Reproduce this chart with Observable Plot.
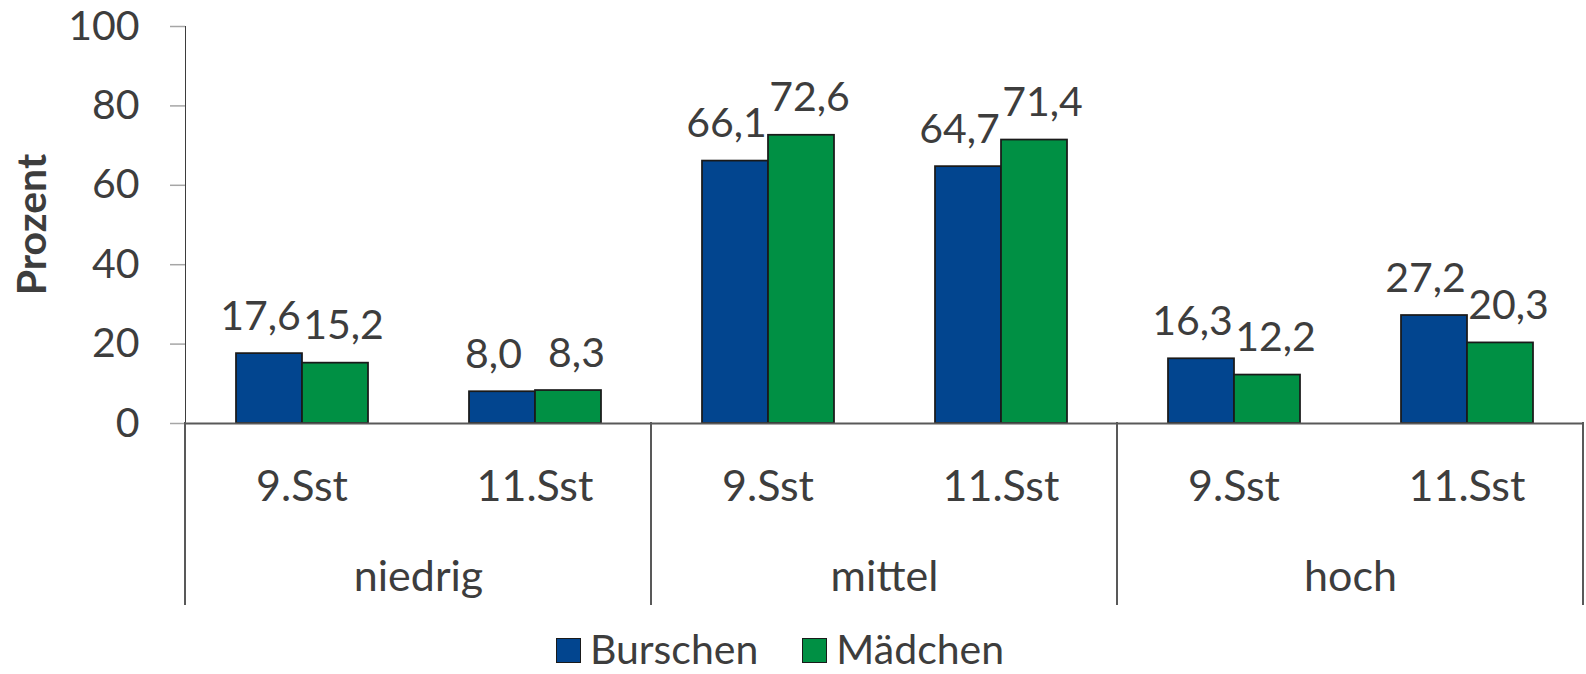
<!DOCTYPE html>
<html><head><meta charset="utf-8">
<script src="https://cdn.jsdelivr.net/npm/d3@7"></script>
<script src="https://cdn.jsdelivr.net/npm/@observablehq/plot@0.6"></script>
<style>
body{margin:0;background:#fff;font-family:Lato,sans-serif;overflow:hidden}
#chart svg{display:block;overflow:visible}
#chart g[aria-label="y-axis tick"]{stroke:#a6a6a6;stroke-width:1.5px}
#chart g[aria-label="y-axis tick"] path{stroke:#a6a6a6}
#legend{display:flex;justify-content:center;align-items:flex-end;height:68px;padding-bottom:1px;font-size:41px;line-height:normal;color:#3d3d3d;padding-right:26px;box-sizing:border-box}
#legend .item{display:flex;align-items:center;margin:0 22px}
#legend .sw{width:23px;height:23px;border:1.5px solid #1a1a1a;margin-right:9px;margin-top:4px}
</style></head><body><div id="chart"></div><div id="legend"></div>
<script>
const groups = ["niedrig", "mittel", "hoch"];
const stufen = ["9.Sst", "11.Sst"];
const series = ["Burschen", "Mädchen"];
const burschen = [17.6, 8.0, 66.1, 64.7, 16.3, 27.2];
const maedchen = [15.2, 8.3, 72.6, 71.4, 12.2, 20.3];
const colors = ["#02458f", "#009044"];
const yTicks = [0, 20, 40, 60, 80, 100];
const yTitle = "Prozent";

const keys = groups.flatMap(g => stufen.map(s => g + "|" + s));
const rows = [];
keys.forEach((k, i) => {
  rows.push({key: k, sex: series[0], value: burschen[i]});
  rows.push({key: k, sex: series[1], value: maedchen[i]});
});
const subRows = keys.map(k => ({key: k, sub: k.split("|")[1]}));
const groupRows = groups.map(g => ({key: g + "|" + stufen[1], group: g}));
const fmt = v => v.toFixed(1).replace(".", ",");

const W = 1586, H = 606;
const plot = Plot.plot({
  width: W, height: H,
  marginLeft: 183, marginRight: 1, marginTop: 26, marginBottom: H - 423,
  style: {fontFamily: "Lato, sans-serif", fontSize: "41px", color: "#3d3d3d", background: "#fff"},
  fx: {domain: keys, padding: 0, axis: null, label: null},
  x: {domain: series, paddingInner: 0, paddingOuter: 0.744, axis: null},
  y: {domain: [0, 100], ticks: yTicks, tickSize: 15, tickPadding: 31, label: null, line: true, tickFormat: d => String(d)},
  color: {domain: series, range: colors},
  marks: [
    Plot.barY(rows, {fx: "key", x: "sex", y: "value", fill: "sex", stroke: "#1a1a1a", strokeWidth: 1.75}),
    Plot.ruleY([0], {stroke: "#595959", strokeWidth: 2}),
    Plot.text(rows.filter(d => d.sex === series[0]), {fx: "key", x: "sex", y: "value", text: d => fmt(d.value), lineAnchor: "bottom", dy: -24, dx: -9, fill: "#3d3d3d"}),
    Plot.text(rows.filter(d => d.sex === series[1]), {fx: "key", x: "sex", y: "value", text: d => fmt(d.value), lineAnchor: "bottom", dy: -24, dx: 8, fill: "#3d3d3d"}),
    Plot.text(subRows, {fx: "key", text: "sub", frameAnchor: "bottom", lineAnchor: "bottom", dy: 77, fontSize: 43, fill: "#3d3d3d"}),
    Plot.text(groupRows, {fx: "key", text: "group", frameAnchor: "bottom-left", textAnchor: "middle", lineAnchor: "bottom", dy: 167, fontSize: 43, fill: "#3d3d3d"})
  ]
});
document.getElementById("chart").appendChild(plot);

// category-axis structure lines and y title, positioned from Plot's scales
const fxs = plot.scale("fx"), ys = plot.scale("y");
const svg = d3.select(plot.tagName.toLowerCase() === "svg" ? plot : plot.querySelector("svg"));
const y0 = ys.apply(0);
const edges = [fxs.apply(keys[0]), fxs.apply(keys[2]), fxs.apply(keys[4]), fxs.apply(keys[5]) + fxs.bandwidth];
svg.append("g").selectAll("line").data(edges).join("line")
  .attr("x1", d => d).attr("x2", d => d)
  .attr("y1", y0 - 1).attr("y2", y0 + 182)
  .attr("stroke", "#595959").attr("stroke-width", 2);
svg.append("text")
  .attr("transform", `translate(32,${ys.apply(50)}) rotate(-90)`)
  .attr("text-anchor", "middle").attr("dy", "0.35em")
  .attr("font-weight", "bold").attr("font-size", 41).attr("fill", "#3d3d3d")
  .text(yTitle);

// legend
const lg = d3.select("#legend");
series.forEach((s, i) => {
  const it = lg.append("div").attr("class", "item");
  it.append("div").attr("class", "sw").style("background", colors[i]);
  it.append("span").text(s);
});
</script></body></html>
